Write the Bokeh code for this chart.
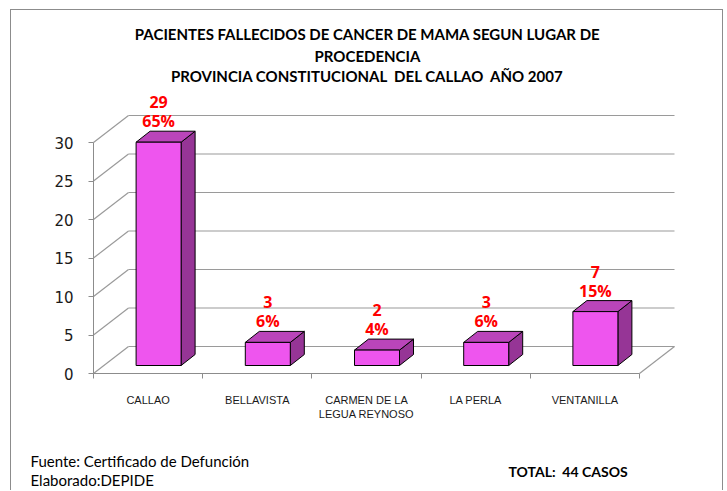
from bokeh.plotting import figure
from bokeh.models import FixedTicker, Range1d, ColumnDataSource
from bokeh.core.properties import value
from bokeh.embed import file_html
from bokeh.resources import INLINE

# ---- data ----
categorias = ["CALLAO", "BELLAVISTA", "CARMEN DE LA\nLEGUA REYNOSO", "LA PERLA", "VENTANILLA"]
casos = [29, 3, 2, 3, 7]
porcentajes = ["65%", "6%", "4%", "6%", "15%"]
y_ticks = [0, 5, 10, 15, 20, 25, 30]
titulo = ["PACIENTES FALLECIDOS DE CANCER DE MAMA SEGUN LUGAR DE",
          "PROCEDENCIA",
          "PROVINCIA CONSTITUCIONAL\u00a0 DEL CALLAO\u00a0 AÑO 2007"]
fuente = "Fuente: Certificado de Defunción"
elaborado = "Elaborado:DEPIDE"
total = "TOTAL:\u00a0 44 CASOS"

# ---- geometry: canvas pixel -> data units ----
W, H = 713, 481          # canvas size
ORIGIN_X, ORIGIN_Y = 82, 363   # canvas pixel of data (0, 0)
PX_X = 109.2             # pixels per category
PX_Y = 7.7               # pixels per case
n = len(categorias)
y_top = y_ticks[-1]

wall_dx, wall_dy = 35 / PX_X, 27 / PX_Y
bar_dx, bar_dy = 14 / PX_X, 11 / PX_Y
bar_w = 45 / PX_X
off_x = (wall_dx - bar_dx) / 2
off_y = (wall_dy - bar_dy) / 2

def cx(px):
    return (px - ORIGIN_X) / PX_X

def cy(py):
    return (ORIGIN_Y - py) / PX_Y

p = figure(width=W, height=H, output_backend="svg", toolbar_location=None,
           x_range=Range1d(cx(0), cx(W)), y_range=Range1d(cy(H), cy(0)),
           min_border=0, title=None,
           styles={"border": "1px solid #8c8c8c", "border-bottom": "none",
                   "margin-left": "10px", "margin-top": "9px"})
p.outline_line_color = None
p.xgrid.visible = False
p.ygrid.visible = False
p.background_fill_color = "white"
p.border_fill_color = "white"

grid_col = "#9a9a9a"
for t in y_ticks:
    p.line([0, wall_dx], [t, t + wall_dy], line_color=grid_col, line_width=1.2)
    p.line([wall_dx, n + wall_dx], [t + wall_dy, t + wall_dy], line_color=grid_col, line_width=1.2)
p.line([n, n + wall_dx], [0, wall_dy], line_color=grid_col, line_width=1.2)

# bars
lefts, rights, bottoms, tops = [], [], [], []
side_xs, side_ys, top_xs, top_ys = [], [], [], []
for i, v in enumerate(casos):
    c = i + 0.5 + off_x
    l, r = c - bar_w / 2, c + bar_w / 2
    b, t = off_y, v + off_y
    lefts.append(l); rights.append(r); bottoms.append(b); tops.append(t)
    side_xs.append([r, r + bar_dx, r + bar_dx, r])
    side_ys.append([b, b + bar_dy, t + bar_dy, t])
    top_xs.append([l, l + bar_dx, r + bar_dx, r])
    top_ys.append([t, t + bar_dy, t + bar_dy, t])

p.patches(side_xs, side_ys, fill_color="#963596", line_color="black", line_width=1)
p.patches(top_xs, top_ys, fill_color="#BA45BA", line_color="black", line_width=1)
p.quad(left=lefts, right=rights, bottom=bottoms, top=tops,
       fill_color="#EE55EE", line_color="black", line_width=1)

src = ColumnDataSource(dict(
    x=[i + 0.5 + off_x for i in range(n)],
    y=[v + off_y + bar_dy for v in casos],
    val=[str(v) for v in casos],
    pct=porcentajes))
p.text(x="x", y="y", text="pct", source=src, text_align="center", text_baseline="bottom",
       y_offset=1, text_color="#FF0000", text_font=value("Open Sans"),
       text_font_style="bold", text_font_size="16px")
p.text(x="x", y="y", text="val", source=src, text_align="center", text_baseline="bottom",
       y_offset=-23, text_color="#FF0000", text_font=value("Open Sans"),
       text_font_style="bold", text_font_size="16px")

# y axis
ya = p.yaxis[0]
ya.fixed_location = 0
ya.ticker = FixedTicker(ticks=y_ticks)
ya.bounds = (0, y_top)
ya.axis_line_color = "#8c8c8c"
ya.major_tick_line_color = "#8c8c8c"
ya.major_tick_out = 5
ya.major_tick_in = 0
ya.minor_tick_line_color = None
ya.major_label_standoff = 15
ya.major_label_text_font = "DejaVu Sans"
ya.major_label_text_font_size = "15px"
ya.major_label_text_color = "#1a1a1a"

# x axis
xa = p.xaxis[0]
xa.fixed_location = 0
xa.ticker = FixedTicker(ticks=[i + 0.5 for i in range(n)], minor_ticks=list(range(n + 1)))
xa.bounds = (0, n)
xa.major_label_overrides = {i + 0.5: categorias[i] for i in range(n)}
xa.axis_line_color = "#8c8c8c"
xa.major_tick_line_color = None
xa.major_tick_out = 0
xa.major_tick_in = 0
xa.minor_tick_line_color = "#8c8c8c"
xa.minor_tick_out = 5
xa.minor_tick_in = 0
xa.major_label_standoff = 15
xa.major_label_text_font = "Liberation Sans"
xa.major_label_text_font_size = "11px"
xa.major_label_text_color = "#1a1a1a"

# title & footer texts (canvas pixel positions converted to data)
tsrc = ColumnDataSource(dict(x=[cx(356)] * 3, y=[cy(23), cy(45), cy(65)], t=titulo))
p.text(x="x", y="y", text="t", source=tsrc, text_align="center", text_baseline="middle",
       text_font=value("Lato"), text_font_style="bold", text_font_size="15px", text_color="black")
fsrc = ColumnDataSource(dict(x=[cx(19), cx(19)], y=[cy(450), cy(469)], t=[fuente, elaborado]))
p.text(x="x", y="y", text="t", source=fsrc, text_align="left", text_baseline="middle",
       text_font=value("Lato"), text_font_size="15px", text_color="black")
p.text(x=[cx(497)], y=[cy(461)], text=[total], text_align="left", text_baseline="middle",
       text_font=value("Lato"), text_font_style="bold", text_font_size="14px", text_color="black")

open("out.html", "w").write(file_html(p, INLINE))
